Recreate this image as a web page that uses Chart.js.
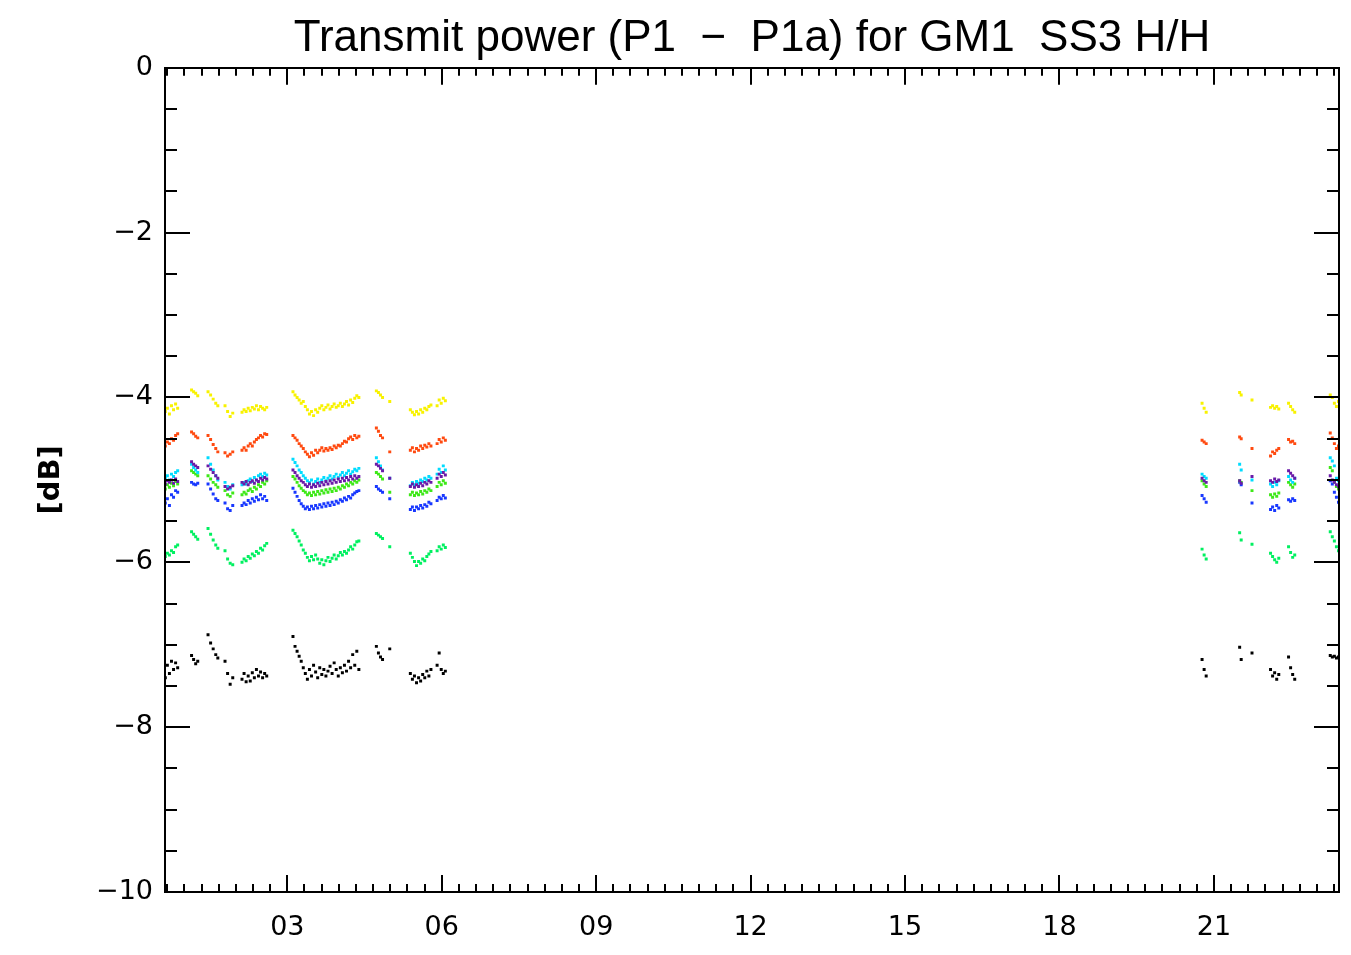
<!DOCTYPE html>
<html><head><meta charset="utf-8">
<script src="https://cdn.jsdelivr.net/npm/chart.js@4.4.0/dist/chart.umd.min.js"></script>
<style>html,body{margin:0;padding:0;background:#fff;overflow:hidden}</style>
</head><body>
<canvas id="c" width="1351" height="955"></canvas>
<script>
const titleText = 'Transmit power (P1  \u2212  P1a) for GM1  SS3 H/H';
const yAxisTitle = '[dB]';
const xTickValues = [3, 6, 9, 12, 15, 18, 21];
const xTickLabels = ['03', '06', '09', '12', '15', '18', '21'];
const xRange = [0.624, 23.43];
const yRange = [-10, 0];

// sample times (hours); one line per pass
const times = [
 0.63,0.67,0.71,0.75,0.79,0.83,0.87,
 1.14,1.18,1.22,1.26,
 1.46,1.51,1.56,1.61,1.65,
 1.79,1.84,1.89,1.94,
 2.12,2.16,2.20,2.24,2.28,2.32,2.36,2.40,2.44,2.48,2.52,2.56,2.60,
 3.11,3.15,3.19,3.23,3.27,3.31,3.35,3.39,3.43,3.47,3.51,3.55,3.59,3.63,3.67,3.71,3.75,3.79,3.83,3.87,3.91,3.95,3.99,4.03,4.07,4.11,4.15,4.19,4.23,4.27,4.31,4.35,4.39,
 4.73,4.77,4.81,4.85,4.99,
 5.39,5.43,5.47,5.51,5.55,5.59,5.63,5.67,5.71,5.75,5.79,5.91,5.95,5.99,6.03,6.07,
 20.77,20.81,20.85,
 21.50,21.53,
 21.74,
 22.10,22.14,22.18,22.22,22.26,
 22.45,22.49,22.53,22.57,
 23.26,23.30,23.34,23.38,23.42
];

const yellowVals = [
 -4.17,-4.13,-4.20,-4.10,-4.15,-4.08,-4.13,
 -3.91,-3.93,-3.95,-3.98,
 -3.93,-3.97,-4.02,-4.07,-4.10,
 -4.10,-4.17,-4.23,-4.19,
 -4.18,-4.15,-4.17,-4.13,-4.16,-4.12,-4.14,-4.10,-4.15,-4.11,-4.13,-4.15,-4.12,
 -3.93,-3.97,-4.00,-4.03,-4.07,-4.05,-4.11,-4.15,-4.20,-4.17,-4.22,-4.15,-4.18,-4.13,-4.10,-4.15,-4.12,-4.09,-4.14,-4.11,-4.08,-4.12,-4.10,-4.07,-4.11,-4.08,-4.05,-4.09,-4.03,-4.06,-4.01,-3.98,-4.00,
 -3.92,-3.94,-3.97,-4.00,-4.05,
 -4.15,-4.18,-4.21,-4.17,-4.20,-4.15,-4.18,-4.13,-4.15,-4.11,-4.09,-4.10,-4.03,-4.07,-4.01,-4.04,
 -4.07,-4.13,-4.18,
 -3.94,-3.97,
 -4.03,
 -4.12,-4.10,-4.13,-4.11,-4.14,
 -4.07,-4.11,-4.15,-4.18,
 -3.97,-4.00,-4.07,-4.11,-4.05
];
const redVals = [
 -4.59,-4.54,-4.56,-4.50,-4.52,-4.46,-4.44,
 -4.42,-4.44,-4.47,-4.49,
 -4.46,-4.51,-4.57,-4.62,-4.66,
 -4.67,-4.71,-4.69,-4.66,
 -4.64,-4.61,-4.64,-4.59,-4.56,-4.59,-4.54,-4.51,-4.49,-4.46,-4.48,-4.44,-4.45,
 -4.46,-4.49,-4.52,-4.56,-4.59,-4.62,-4.66,-4.69,-4.72,-4.67,-4.70,-4.64,-4.67,-4.64,-4.61,-4.65,-4.62,-4.64,-4.61,-4.63,-4.59,-4.61,-4.58,-4.59,-4.56,-4.53,-4.54,-4.50,-4.48,-4.51,-4.46,-4.49,-4.47,
 -4.37,-4.41,-4.46,-4.49,-4.66,
 -4.64,-4.61,-4.66,-4.62,-4.64,-4.59,-4.62,-4.58,-4.60,-4.56,-4.59,-4.56,-4.51,-4.54,-4.49,-4.52,
 -4.52,-4.54,-4.56,
 -4.48,-4.50,
 -4.62,
 -4.71,-4.66,-4.68,-4.64,-4.62,
 -4.51,-4.54,-4.53,-4.56,
 -4.43,-4.49,-4.56,-4.62,-4.59
];
const cyanVals = [
 -4.98,-4.95,-5.00,-4.93,-4.96,-4.91,-4.89,
 -4.81,-4.85,-4.88,-4.91,
 -4.73,-4.81,-4.88,-4.95,-5.00,
 -5.03,-5.08,-5.11,-5.06,
 -5.06,-5.03,-5.05,-5.01,-4.99,-5.02,-4.97,-5.00,-4.95,-4.93,-4.96,-4.92,-4.94,
 -4.75,-4.79,-4.83,-4.88,-4.91,-4.95,-4.98,-5.01,-5.03,-5.00,-5.05,-5.02,-4.99,-5.03,-5.00,-4.97,-5.01,-4.98,-4.95,-4.99,-4.96,-4.93,-4.97,-4.94,-4.91,-4.95,-4.92,-4.89,-4.93,-4.90,-4.87,-4.89,-4.86,
 -4.73,-4.78,-4.83,-4.88,-4.98,
 -5.07,-5.03,-5.06,-5.02,-5.04,-5.00,-5.02,-4.98,-5.00,-4.96,-4.98,-4.93,-4.87,-4.91,-4.83,-4.88,
 -4.93,-4.96,-4.98,
 -4.81,-4.88,
 -5.00,
 -5.05,-5.08,-5.03,-5.06,-5.01,
 -4.96,-5.00,-5.03,-4.98,
 -4.73,-4.77,-4.83,-4.98,-5.01
];
const purpleVals = [
 -5.05,-5.01,-5.03,-5.00,-5.04,-4.99,-5.02,
 -4.78,-4.81,-4.83,-4.85,
 -4.83,-4.87,-4.91,-4.95,-4.98,
 -5.08,-5.11,-5.09,-5.07,
 -5.03,-5.05,-5.02,-5.06,-5.03,-5.01,-5.04,-5.00,-5.02,-4.98,-5.00,-4.97,-4.99,
 -4.88,-4.91,-4.95,-4.98,-5.01,-5.03,-5.06,-5.08,-5.05,-5.09,-5.06,-5.08,-5.04,-5.07,-5.03,-5.06,-5.02,-5.05,-5.01,-5.04,-5.00,-5.03,-4.99,-5.02,-4.98,-5.01,-4.97,-5.00,-4.96,-4.99,-4.95,-4.98,-4.96,
 -4.81,-4.83,-4.86,-4.89,-4.98,
 -5.08,-5.05,-5.09,-5.06,-5.08,-5.04,-5.07,-5.03,-5.05,-5.01,-5.03,-4.98,-4.93,-4.96,-4.91,-4.94,
 -4.98,-5.01,-5.03,
 -5.01,-5.04,
 -4.96,
 -5.01,-5.03,-4.99,-5.02,-5.00,
 -4.89,-4.92,-4.95,-4.98,
 -4.95,-5.00,-5.03,-5.06,-5.08
];
const greenVals = [
 -5.11,-5.06,-5.09,-5.04,-5.07,-5.02,-5.05,
 -4.89,-4.91,-4.93,-4.95,
 -4.95,-4.99,-5.03,-5.06,-5.09,
 -5.13,-5.18,-5.20,-5.16,
 -5.18,-5.15,-5.17,-5.13,-5.11,-5.14,-5.09,-5.11,-5.06,-5.08,-5.03,-5.05,-5.01,
 -4.96,-4.99,-5.03,-5.07,-5.10,-5.13,-5.15,-5.18,-5.16,-5.19,-5.15,-5.18,-5.14,-5.17,-5.13,-5.16,-5.12,-5.15,-5.11,-5.14,-5.10,-5.13,-5.09,-5.11,-5.07,-5.09,-5.05,-5.07,-5.03,-5.05,-5.01,-5.03,-5.00,
 -4.91,-4.93,-4.96,-4.99,-5.15,
 -5.18,-5.15,-5.19,-5.16,-5.18,-5.14,-5.17,-5.13,-5.15,-5.11,-5.13,-5.08,-5.03,-5.06,-5.01,-5.04,
 -5.01,-5.05,-5.08,
 -5.01,-5.03,
 -5.13,
 -5.18,-5.21,-5.17,-5.20,-5.16,
 -5.03,-5.06,-5.09,-5.05,
 -4.85,-4.89,-5.03,-5.08,-5.11
];
const blueVals = [
 -5.28,-5.23,-5.31,-5.18,-5.21,-5.13,-5.15,
 -5.03,-5.05,-5.06,-5.04,
 -5.05,-5.11,-5.17,-5.23,-5.25,
 -5.28,-5.35,-5.37,-5.31,
 -5.31,-5.28,-5.30,-5.25,-5.28,-5.23,-5.26,-5.21,-5.24,-5.18,-5.23,-5.20,-5.25,
 -5.10,-5.15,-5.20,-5.25,-5.29,-5.32,-5.35,-5.33,-5.36,-5.32,-5.35,-5.31,-5.34,-5.30,-5.33,-5.29,-5.32,-5.28,-5.31,-5.27,-5.30,-5.26,-5.28,-5.24,-5.26,-5.22,-5.24,-5.20,-5.22,-5.18,-5.16,-5.14,-5.13,
 -5.08,-5.11,-5.13,-5.15,-5.23,
 -5.36,-5.33,-5.37,-5.33,-5.35,-5.31,-5.34,-5.30,-5.32,-5.27,-5.29,-5.25,-5.21,-5.23,-5.19,-5.22,
 -5.19,-5.23,-5.27,
 -5.03,-5.06,
 -5.28,
 -5.36,-5.33,-5.37,-5.31,-5.34,
 -5.24,-5.26,-5.23,-5.25,
 -5.01,-5.05,-5.15,-5.21,-5.27
];
const springVals = [
 -5.93,-5.89,-5.91,-5.86,-5.88,-5.81,-5.79,
 -5.63,-5.66,-5.69,-5.72,
 -5.59,-5.66,-5.73,-5.79,-5.83,
 -5.86,-5.96,-6.01,-6.03,
 -6.00,-5.96,-5.98,-5.93,-5.95,-5.90,-5.92,-5.87,-5.89,-5.83,-5.85,-5.80,-5.77,
 -5.61,-5.65,-5.69,-5.74,-5.79,-5.85,-5.89,-5.94,-5.98,-5.93,-5.97,-5.91,-5.96,-6.01,-5.97,-6.03,-5.98,-5.94,-5.99,-5.95,-5.91,-5.96,-5.92,-5.88,-5.91,-5.87,-5.89,-5.85,-5.81,-5.84,-5.79,-5.75,-5.74,
 -5.65,-5.67,-5.69,-5.71,-5.81,
 -5.89,-5.94,-5.99,-6.04,-5.99,-6.01,-5.96,-5.98,-5.93,-5.90,-5.87,-5.86,-5.81,-5.84,-5.79,-5.82,
 -5.84,-5.91,-5.96,
 -5.64,-5.73,
 -5.78,
 -5.89,-5.93,-5.97,-6.00,-5.95,
 -5.81,-5.88,-5.94,-5.91,
 -5.63,-5.69,-5.74,-5.81,-5.86
];
const blackVals = [
 -7.40,-7.25,-7.35,-7.20,-7.30,-7.22,-7.28,
 -7.13,-7.18,-7.23,-7.20,
 -6.88,-6.98,-7.05,-7.12,-7.16,
 -7.20,-7.35,-7.48,-7.40,
 -7.42,-7.35,-7.45,-7.38,-7.44,-7.34,-7.40,-7.30,-7.38,-7.33,-7.40,-7.35,-7.38,
 -6.90,-7.02,-7.08,-7.14,-7.20,-7.28,-7.35,-7.42,-7.30,-7.38,-7.25,-7.33,-7.40,-7.28,-7.36,-7.30,-7.38,-7.32,-7.26,-7.35,-7.22,-7.30,-7.38,-7.28,-7.34,-7.25,-7.32,-7.20,-7.28,-7.12,-7.25,-7.08,-7.30,
 -7.02,-7.10,-7.15,-7.18,-7.05,
 -7.35,-7.42,-7.38,-7.46,-7.40,-7.44,-7.36,-7.40,-7.32,-7.38,-7.30,-7.25,-7.10,-7.30,-7.35,-7.32,
 -7.18,-7.30,-7.38,
 -7.03,-7.18,
 -7.10,
 -7.30,-7.38,-7.34,-7.42,-7.36,
 -7.15,-7.28,-7.36,-7.42,
 -7.13,-7.15,-7.14,-7.16,-7.15
];

const seriesList = [
  {name: 'purple', vals: purpleVals, color: '#6a1aa8'},
  {name: 'cyan', vals: cyanVals, color: '#00dcff'},
  {name: 'green', vals: greenVals, color: '#3ee818'},
  {name: 'blue', vals: blueVals, color: '#1838ff'},
  {name: 'yellow', vals: yellowVals, color: '#f8f200'},
  {name: 'red', vals: redVals, color: '#ff4a10'},
  {name: 'spring', vals: springVals, color: '#00f060'},
  {name: 'black', vals: blackVals, color: '#000000'}
];

function toPoints(vals) {
  const pts = [];
  for (let i = 0; i < times.length; i++) {
    if (vals[i] !== undefined && vals[i] !== null) pts.push({x: times[i], y: vals[i]});
  }
  return pts;
}

const frameTicks = {
  id: 'frameTicks',
  afterDatasetsDraw(chart) {
    const {ctx, chartArea: a, scales: {x, y}} = chart;
    ctx.save();
    ctx.strokeStyle = '#000';
    ctx.lineWidth = 2;
    ctx.lineCap = 'butt';
    ctx.beginPath();
    const k0 = Math.ceil(x.min * 3), k1 = Math.floor(x.max * 3);
    for (let k = k0; k <= k1; k++) {
      const px = Math.round(x.getPixelForValue(k / 3));
      const len = (k % 9 === 0) ? 17 : 8;
      ctx.moveTo(px, a.bottom); ctx.lineTo(px, a.bottom - len);
      ctx.moveTo(px, a.top); ctx.lineTo(px, a.top + len);
    }
    const j0 = Math.ceil(y.min * 2), j1 = Math.floor(y.max * 2);
    for (let j = j0; j <= j1; j++) {
      const py = Math.round(y.getPixelForValue(j / 2));
      const len = (j % 4 === 0) ? 25 : 12;
      ctx.moveTo(a.left, py); ctx.lineTo(a.left + len, py);
      ctx.moveTo(a.right, py); ctx.lineTo(a.right - len, py);
    }
    ctx.stroke();
    ctx.strokeRect(Math.round(a.left), Math.round(a.top), Math.round(a.right - a.left), Math.round(a.bottom - a.top));
    ctx.restore();
  }
};

new Chart(document.getElementById('c'), {
  type: 'scatter',
  data: {
    datasets: seriesList.map(s => ({
      label: s.name,
      data: toPoints(s.vals),
      backgroundColor: s.color,
      borderColor: s.color,
      borderWidth: 0,
      pointStyle: 'rect',
      pointRadius: 2.1,
      pointHoverRadius: 2.1
    }))
  },
  options: {
    responsive: false,
    devicePixelRatio: 1,
    animation: false,
    layout: {padding: {left: 0, right: 12, top: 0, bottom: 0}},
    plugins: {
      legend: {display: false},
      tooltip: {enabled: false},
      title: {
        display: true,
        fullSize: false,
        text: titleText,
        color: '#000',
        font: {family: 'Liberation Sans', size: 44, weight: 'normal'},
        padding: {top: 12, bottom: 3}
      }
    },
    scales: {
      x: {
        type: 'linear',
        min: xRange[0], max: xRange[1],
        grid: {display: false, drawTicks: false},
        border: {display: false},
        afterBuildTicks(scale) { scale.ticks = xTickValues.map(v => ({value: v})); },
        afterFit(scale) { scale.height = 63; },
        ticks: {
          autoSkip: false, maxRotation: 0, color: '#000', padding: 20,
          font: {family: 'DejaVu Sans', size: 27},
          callback(v) { const i = xTickValues.indexOf(v); return i >= 0 ? xTickLabels[i] : ''; }
        }
      },
      y: {
        type: 'linear',
        min: yRange[0], max: yRange[1],
        grid: {display: false, drawTicks: false},
        border: {display: false},
        afterFit(scale) { scale.width = 165; },
        ticks: {
          stepSize: 2, color: '#000', padding: 12,
          font: {family: 'DejaVu Sans', size: 27},
          callback(v) { return v < 0 ? '\u2212' + Math.abs(v) : String(v); }
        },
        title: {
          display: true, text: yAxisTitle, color: '#000',
          font: {family: 'DejaVu Sans', size: 29, weight: 'bold'},
          padding: {top: 34, bottom: 0}
        }
      }
    }
  },
  plugins: [frameTicks]
});
</script>
</body></html>
